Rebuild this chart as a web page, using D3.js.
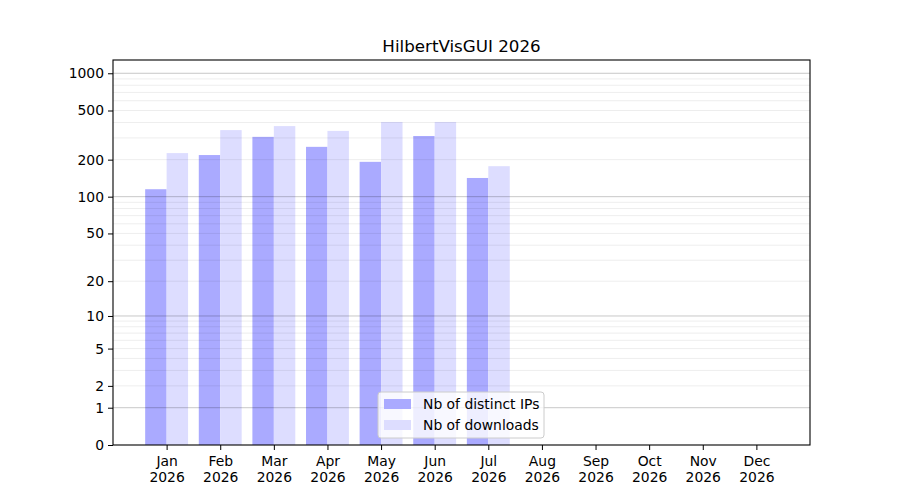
<!DOCTYPE html>
<html>
<head>
<meta charset="utf-8">
<script src="https://cdn.jsdelivr.net/npm/d3@7"></script>
<style>
  body { margin: 0; background: #fff; }
  text { font-family: "DejaVu Sans", sans-serif; fill: #000; }
</style>
</head>
<body>
<script>
const width = 900;
const height = 500;

const months = ['Jan', 'Feb', 'Mar', 'Apr', 'May', 'Jun', 'Jul', 'Aug', 'Sep', 'Oct', 'Nov', 'Dec'];
const year = '2026';
const distinctIPs = [115, 218, 306, 254, 192, 311, 142];
const downloads = [226, 347, 374, 342, 404, 404, 177];
const yTicks = [0, 1, 2, 5, 10, 20, 50, 100, 200, 500, 1000];
const majorGrid = [1, 10, 100, 1000];
const minorGrid = [2, 3, 4, 5, 6, 7, 8, 9, 20, 30, 40, 50, 60, 70, 80, 90,
                   200, 300, 400, 500, 600, 700, 800, 900];

const margin = {left: 113, right: 90, top: 60, bottom: 55};

const svg = d3.select('body')
              .append('svg')
              .attr('width', width)
              .attr('height', height);

// log10(1 + v) scale, like the original
const t = v => Math.log10(1 + v);
const y = d3.scaleLinear()
            .domain([0, t(1280)])
            .range([height - margin.bottom, margin.top]);
const yv = v => y(t(v));

const x = d3.scaleLinear()
            .domain([-1, 12])
            .range([margin.left, width - margin.right]);
const bw = (x(1) - x(0)) * 0.4;

svg.append('g')
   .selectAll('rect')
   .data(distinctIPs)
   .join('rect')
   .attr('x', (d, i) => x(i) - bw)
   .attr('y', d => yv(d))
   .attr('width', bw)
   .attr('height', d => yv(0) - yv(d))
   .attr('fill', '#aaaaff');

svg.append('g')
   .selectAll('rect')
   .data(downloads)
   .join('rect')
   .attr('x', (d, i) => x(i))
   .attr('y', d => yv(d))
   .attr('width', bw)
   .attr('height', d => yv(0) - yv(d))
   .attr('fill', '#ddddff');

// grid lines
svg.append('g')
   .selectAll('line')
   .data(minorGrid)
   .join('line')
   .attr('x1', margin.left).attr('x2', width - margin.right)
   .attr('y1', d => yv(d)).attr('y2', d => yv(d))
   .attr('stroke', '#000').attr('stroke-opacity', 0.07);

svg.append('g')
   .selectAll('line')
   .data(majorGrid)
   .join('line')
   .attr('x1', margin.left).attr('x2', width - margin.right)
   .attr('y1', d => yv(d)).attr('y2', d => yv(d))
   .attr('stroke', '#000').attr('stroke-opacity', 0.22);

// y axis
const yAxis = d3.axisLeft(y)
                .tickValues(yTicks.map(t))
                .tickFormat((d, i) => yTicks[i])
                .tickSize(5)
                .tickPadding(4);
const gy = svg.append('g')
              .attr('transform', `translate(${margin.left},0)`)
              .call(yAxis);
gy.select('.domain').remove();
gy.selectAll('text').style('font-size', '13.9px').style('font-family', '"DejaVu Sans"');

// x axis
const xAxis = d3.axisBottom(x)
                .tickValues(d3.range(months.length))
                .tickFormat('')
                .tickSize(5);
const gx = svg.append('g')
              .attr('transform', `translate(0,${height - margin.bottom})`)
              .call(xAxis);
gx.select('.domain').remove();
gx.selectAll('.tick')
  .append('text')
  .attr('text-anchor', 'middle')
  .style('font-size', '13.9px')
  .style('font-family', '"DejaVu Sans"')
  .selectAll('tspan')
  .data((d) => [months[d], year])
  .join('tspan')
  .attr('x', 0)
  .attr('y', (d, i) => 21 + i * 16)
  .text(d => d);

// frame
svg.append('rect')
   .attr('x', margin.left)
   .attr('y', margin.top)
   .attr('width', width - margin.left - margin.right)
   .attr('height', height - margin.top - margin.bottom)
   .attr('fill', 'none')
   .attr('stroke', '#000')
   .attr('stroke-width', 1.1);

// title
svg.append('text')
   .attr('x', (margin.left + width - margin.right) / 2)
   .attr('y', 52)
   .attr('text-anchor', 'middle')
   .style('font-size', '16.7px')
   .text('HilbertVisGUI ' + year);

// legend
const legendItems = [
  {label: 'Nb of distinct IPs', color: '#aaaaff'},
  {label: 'Nb of downloads', color: '#ddddff'}
];
const legend = svg.append('g').attr('transform', 'translate(378,392)');
legend.append('rect')
      .attr('width', 166).attr('height', 46)
      .attr('rx', 3)
      .attr('fill', '#fff').attr('fill-opacity', 0.8)
      .attr('stroke', '#ccc');
const li = legend.selectAll('g.item')
                 .data(legendItems)
                 .join('g')
                 .attr('class', 'item')
                 .attr('transform', (d, i) => `translate(6,${7 + i * 21})`);
li.append('rect')
  .attr('width', 27).attr('height', 10)
  .attr('fill', d => d.color);
li.append('text')
  .attr('x', 39).attr('y', 10)
  .style('font-size', '13.9px')
  .text(d => d.label);
</script>
</body>
</html>
